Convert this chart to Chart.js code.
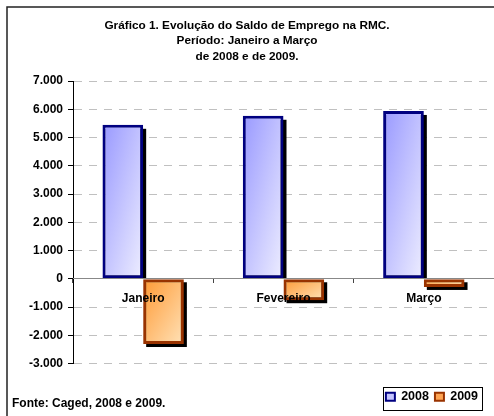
<!DOCTYPE html>
<html lang="pt-BR">
<head>
<meta charset="utf-8">
<title>Saldo de Emprego na RMC</title>
<script src="https://cdn.jsdelivr.net/npm/chart.js@4.4.1/dist/chart.umd.min.js"></script>
<style>
    body { margin: 0; background: #fff; overflow: hidden; }
    #caixa { position: relative; width: 494px; height: 416px; }
</style>
</head>
<body>
<div id="caixa">
    <canvas id="graficoSaldo"></canvas>
</div>
<script>
// dados
const meses = ['Janeiro', 'Fevereiro', 'Março'];
const anos = ['2008', '2009'];
const saldo2008 = [5450, 5770, 5940];
const saldo2009 = [-2310, -760, -290];
const ticksY = [-3000, -2000, -1000, 0, 1000, 2000, 3000, 4000, 5000, 6000, 7000];

const fonte = 'Arial, "Liberation Sans", sans-serif';
const coresInicio = ['#9999ff', '#ff9933'];
const coresFim = ['#eeeeff', '#ffe2b8'];
const coresBorda = ['#000080', '#993300'];
const coresLegenda = ['#c4c4ff', '#ffa452'];
const larguraGrupo = 0.58;

function formatar(valor) {
    let s = Math.abs(valor).toString();
    s = s.replace(/\B(?=(\d{3})+(?!\d))/g, '.');
    return (valor < 0 ? '-' : '') + s;
}

// gradiente diagonal tipo excel: t = (u + v) / 2 dentro da barra
function gradiente(context) {
    const chart = context.chart;
    const ds = context.datasetIndex;
    const x = chart.scales.x, y = chart.scales.y;
    if (!x || !y || !chart.chartArea) return coresInicio[ds];
    const v = context.raw;
    const meio = x.getPixelForValue(context.dataIndex);
    const larg = (x.width / meses.length) * larguraGrupo / 2;
    const esq = ds == 0 ? meio - larg : meio;
    const topo = y.getPixelForValue(Math.max(v, 0));
    const base = y.getPixelForValue(Math.min(v, 0));
    const alt = Math.max(base - topo, 1);
    const a = 1 / (2 * larg), b = 1 / (2 * alt);
    const n = a * a + b * b;
    const g = chart.ctx.createLinearGradient(esq, topo, esq + a / n, topo + b / n);
    g.addColorStop(0, coresInicio[ds]);
    g.addColorStop(1, coresFim[ds]);
    return g;
}

// sombra preta deslocada atrás das barras
const sombraBarras = {
    id: 'sombraBarras',
    beforeDatasetsDraw(chart) {
        const ctx = chart.ctx;
        ctx.save();
        ctx.fillStyle = '#000';
        chart.data.datasets.forEach((d, i) => {
            chart.getDatasetMeta(i).data.forEach(el => {
                const p = el.getProps(['x', 'y', 'base', 'width'], true);
                const esq = p.x - p.width / 2 + 3;
                if (p.y < p.base) {
                    ctx.fillRect(esq, p.y + 4, p.width, p.base - p.y - 4);
                } else {
                    ctx.fillRect(esq, p.base + 3, p.width, p.y - p.base);
                }
            });
        });
        ctx.restore();
    }
};

const extras = {
    id: 'extras',
    afterLayout(chart) {
        // a legenda fica mais abaixo e um pouco à esquerda
        const leg = chart.legend;
        leg.top += 21;
        leg.bottom += 21;
        leg.left -= 10;
        leg.right -= 10;
    },
    beforeDraw(chart) {
        const ctx = chart.ctx;
        ctx.save();
        ctx.strokeStyle = '#222';
        ctx.lineWidth = 1.5;
        ctx.strokeRect(7, 7, chart.width + 20, chart.height + 20);
        ctx.restore();
    },
    afterDraw(chart) {
        const ctx = chart.ctx;
        ctx.save();
        // moldura da legenda
        const caixas = chart.legend.legendHitBoxes;
        if (caixas && caixas.length) {
            const x1 = Math.min(...caixas.map(c => c.left)) - 3;
            const x2 = Math.max(...caixas.map(c => c.left + c.width)) + 4;
            const y1 = Math.min(...caixas.map(c => c.top)) - 4;
            const y2 = Math.max(...caixas.map(c => c.top + c.height)) + 6;
            ctx.strokeStyle = '#000';
            ctx.lineWidth = 1;
            ctx.strokeRect(Math.round(x1) + 0.5, Math.round(y1) + 0.5, Math.round(x2 - x1), Math.round(y2 - y1));
        }
        ctx.fillStyle = '#000';
        ctx.font = 'bold 12px ' + fonte;
        ctx.textBaseline = 'middle';
        ctx.fillText('Fonte: Caged, 2008 e 2009.', 12, 404);
        ctx.restore();
    }
};

const config = {
    type: 'bar',
    data: {
        labels: meses,
        datasets: [{
            label: anos[0],
            data: saldo2008,
            backgroundColor: gradiente,
            borderColor: coresBorda[0],
            borderWidth: 3,
            borderSkipped: false
        },
        {
            label: anos[1],
            data: saldo2009,
            backgroundColor: gradiente,
            borderColor: coresBorda[1],
            borderWidth: 3,
            borderSkipped: false
        }]
    },
    options: {
        responsive: false,
        animation: false,
        datasets: { bar: { barPercentage: 1, categoryPercentage: larguraGrupo } },
        layout: { padding: { left: 0, right: 0, top: 0, bottom: 24 } },
        plugins: {
            tooltip: { enabled: false },
            title: {
                display: true,
                text: ['Gráfico 1. Evolução do Saldo de Emprego na RMC.', 'Período: Janeiro a Março', 'de 2008 e de 2009.'],
                color: '#000',
                font: { family: fonte, size: 11.8, weight: 'bold', lineHeight: 1.3 },
                padding: { top: 18, bottom: 17 }
            },
            legend: {
                position: 'bottom',
                align: 'end',
                labels: {
                    color: '#000',
                    font: { family: fonte, size: 12.5, weight: 'bold' },
                    boxWidth: 9,
                    boxHeight: 8,
                    padding: 6,
                    generateLabels: () => anos.map((a, i) => ({
                        text: a,
                        fillStyle: coresLegenda[i],
                        strokeStyle: coresBorda[i],
                        lineWidth: 2,
                        datasetIndex: i,
                        hidden: false
                    }))
                }
            }
        },
        scales: {
            x: {
                position: { y: 0 },
                grid: { drawOnChartArea: false, drawTicks: true, tickLength: 4, tickColor: '#444', offset: true },
                border: { display: true, color: '#888', width: 1, z: 1 },
                ticks: { color: '#000', font: { family: fonte, size: 12, weight: 'bold' }, padding: 9, z: 1 }
            },
            y: {
                min: -3000,
                max: 7000,
                afterBuildTicks: (eixo) => { eixo.ticks = ticksY.map(v => ({ value: v })); },
                afterFit: (eixo) => { eixo.width = 73; },
                ticks: { color: '#000', font: { family: fonte, size: 12, weight: 'bold' }, padding: 5, callback: (v) => formatar(v) },
                grid: { color: '#c0c0c0', tickColor: '#000', tickLength: 5 },
                border: { display: true, color: '#000', width: 1, dash: [8, 7] }
            }
        }
    },
    plugins: [sombraBarras, extras]
};

const canvas = document.getElementById('graficoSaldo');
canvas.width = 494;
canvas.height = 416;
const graficoSaldo = new Chart(canvas, config);
</script>
</body>
</html>
